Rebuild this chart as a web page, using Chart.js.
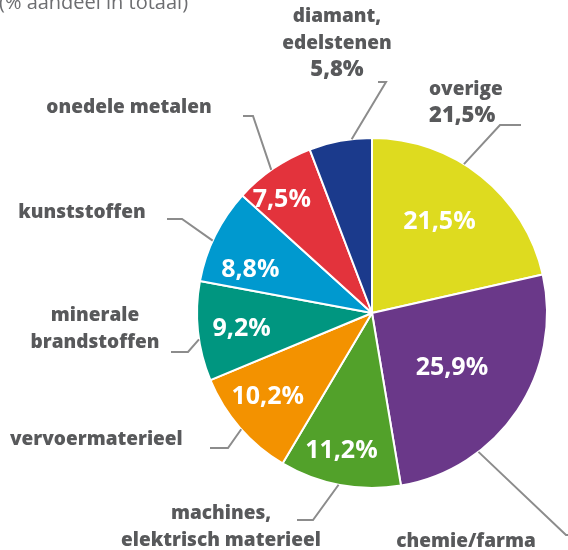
<!DOCTYPE html>
<html>
<head>
<meta charset="utf-8">
<script src="https://cdn.jsdelivr.net/npm/chart.js@4/dist/chart.umd.min.js"></script>
<style>
  html, body { margin: 0; padding: 0; background: #ffffff; }
  #wrap { position: relative; width: 568px; height: 550px; }
</style>
</head>
<body>
<div id="wrap"><canvas id="c" width="568" height="550"></canvas></div>
<script>
// Export shares by product group, clockwise from 12 o'clock
const categories = [
  ['overige'],
  ['chemie/farma'],
  ['machines,', 'elektrisch materieel'],
  ['vervoermaterieel'],
  ['minerale', 'brandstoffen'],
  ['kunststoffen'],
  ['onedele metalen'],
  ['diamant,', 'edelstenen']
];
const shares = [21.5, 25.9, 11.2, 10.2, 9.2, 8.8, 7.5, 5.8];
const sliceColors = ['#dedb1f', '#6a3889', '#52a12a', '#f39200', '#009680', '#0099cf', '#e3333c', '#1b3a8c'];
const subtitle = '(% aandeel in totaal)';

const fmt = v => v.toFixed(1).replace('.', ',') + '%';

// Placement of the texts and leader lines around the pie
const layout = [
  { inside: [0.47, 0.65], text: { x: 429, y: 95, align: 'left', value: true },  lead: { f: 0.41, elbow: [500, 125], end: [521, 125] } },
  { inside: [0.50, 0.55], text: { x: 466, y: 547, align: 'center' },            lead: { f: 0.70, elbow: [566, 535], end: [572, 535] } },
  { inside: [0.55, 0.80], text: { x: 221, y: 519, align: 'center' },            lead: { f: 0.51, elbow: [313, 520], end: [297, 520] } },
  { inside: [0.57, 0.76], text: { x: 10,  y: 445, align: 'left' },              lead: { f: 0.48, elbow: [228, 448], end: [210, 448] } },
  { inside: [0.48, 0.75], text: { x: 95,  y: 321, align: 'center' },            lead: { f: 0.42, elbow: [188, 352], end: [171, 352] } },
  { inside: [0.30, 0.74], text: { x: 82,  y: 218, align: 'center' },            lead: { f: 0.44, elbow: [182, 219], end: [167, 219] } },
  { inside: [0.35, 0.83], text: { x: 129, y: 113, align: 'center' },            lead: { f: 0.47, elbow: [253, 116], end: [243, 116] } },
  { inside: null,         text: { x: 337, y: 22,  align: 'center', value: true }, lead: { f: 0.68, elbow: [386, 82], end: [378, 82] } }
];

const family = '"Open Sans", Lato, sans-serif';
const labelFont = '800 19px ' + family;
const outsideValueFont = '800 22px ' + family;
const valueFont = '700 25px ' + family;
const textGray = '#58595b';
const leaderGray = '#8c8c8c';
const lineGap = 26.5;

const annotations = {
  id: 'pieAnnotations',
  afterDatasetsDraw(chart) {
    const ctx = chart.ctx;
    const arcs = chart.getDatasetMeta(0).data;
    ctx.save();

    // subtitle, partly above the top edge
    ctx.font = '400 20px ' + family;
    ctx.fillStyle = '#6d6e71';
    ctx.textAlign = 'left';
    ctx.textBaseline = 'alphabetic';
    ctx.fillText(subtitle, -1, 9);

    arcs.forEach((arc, i) => {
      const L = layout[i];
      const { x, y, startAngle, endAngle, outerRadius } = arc.getProps(['x', 'y', 'startAngle', 'endAngle', 'outerRadius'], true);
      const span = endAngle - startAngle;

      // leader line from the rim
      const a = startAngle + span * L.lead.f;
      ctx.beginPath();
      ctx.moveTo(x + outerRadius * Math.cos(a), y + outerRadius * Math.sin(a));
      ctx.lineTo(L.lead.elbow[0], L.lead.elbow[1]);
      ctx.lineTo(L.lead.end[0], L.lead.end[1]);
      ctx.strokeStyle = leaderGray;
      ctx.lineWidth = 2;
      ctx.lineJoin = 'miter';
      ctx.stroke();

      // category text outside
      ctx.fillStyle = textGray;
      ctx.textAlign = L.text.align;
      ctx.textBaseline = 'alphabetic';
      const lines = categories[i];
      ctx.font = labelFont;
      lines.forEach((s, k) => ctx.fillText(s, L.text.x, L.text.y + k * lineGap));
      if (L.text.value) {
        ctx.font = outsideValueFont;
        ctx.fillText(fmt(shares[i]), L.text.x, L.text.y + lines.length * lineGap + 0.5);
      }

      // value inside the slice
      if (L.inside) {
        const b = startAngle + span * L.inside[0];
        const r = outerRadius * L.inside[1];
        ctx.font = valueFont;
        ctx.fillStyle = '#ffffff';
        ctx.textAlign = 'center';
        ctx.textBaseline = 'middle';
        ctx.fillText(fmt(shares[i]), x + r * Math.cos(b), y + r * Math.sin(b) + 1);
      }
    });
    ctx.restore();
  }
};

function draw() {
  new Chart(document.getElementById('c'), {
    type: 'pie',
    data: {
      labels: categories.map(c => c.join(' ')),
      datasets: [{
        data: shares,
        backgroundColor: sliceColors,
        borderColor: '#ffffff',
        borderWidth: 2,
        hoverOffset: 0
      }]
    },
    options: {
      responsive: false,
      devicePixelRatio: 1,
      animation: false,
      radius: 175,
      layout: { padding: { left: 198, right: 22, top: 139, bottom: 63 } },
      plugins: { legend: { display: false }, tooltip: { enabled: false } },
      events: []
    },
    plugins: [annotations]
  });
}

if (document.fonts && document.fonts.load) {
  Promise.all([
    document.fonts.load('800 19px "Open Sans"'),
    document.fonts.load('700 25px "Open Sans"'),
    document.fonts.load('400 20px "Open Sans"')
  ]).then(draw, draw);
} else {
  draw();
}
</script>
</body>
</html>
